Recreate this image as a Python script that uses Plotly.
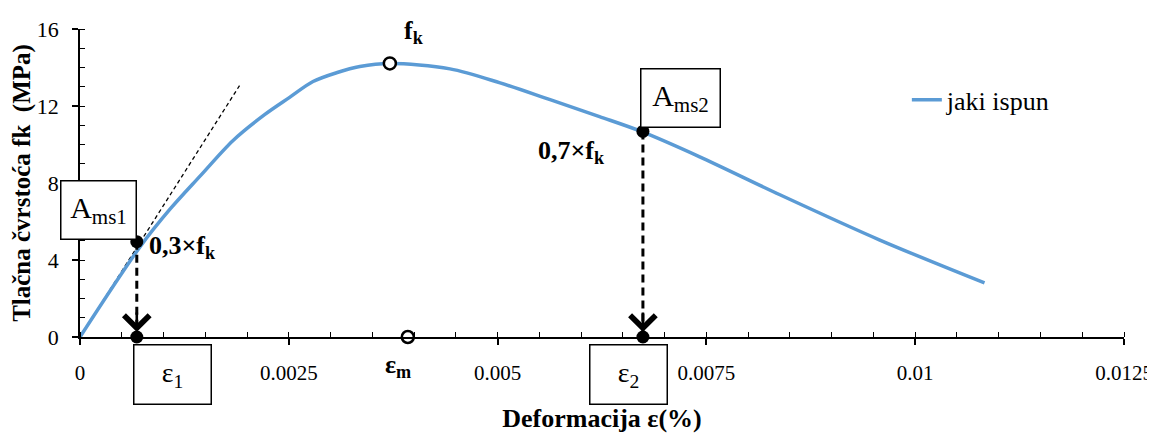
import plotly.graph_objects as go

# ---- data ----
strain = [0, 0.00072, 0.00108, 0.00144, 0.00183, 0.00221, 0.00251, 0.00279,
          0.00308, 0.00335, 0.00371, 0.00443, 0.00503, 0.00562, 0.00622,
          0.00672, 0.00742, 0.00838, 0.00957, 0.01083]
stress = [0, 4.69, 6.65, 8.37, 10.20, 11.55, 12.45, 13.27,
          13.74, 14.05, 14.21, 13.93, 13.20, 12.34, 11.45,
          10.68, 9.36, 7.39, 5.05, 2.81]
series_name = "jaki ispun"

tangent_x = [0, 0.00191]
tangent_y = [0, 13.06]

peak_x, peak_y = 0.00371, 14.21      # f_k
eps_m = 0.003925                     # strain at peak (marked on axis)
eps1, ams1_y = 0.00068, 4.95         # 0,3 x f_k point
eps2, ams2_y = 0.00674, 10.68        # 0,7 x f_k point

x_tickvals = [0, 0.0025, 0.005, 0.0075, 0.01, 0.0125]
x_ticktext = ["0", "0.0025", "0.005", "0.0075", "0.01", "0.0125"]
y_tickvals = [0, 4, 8, 12, 16]
y_ticktext = ["0", "4", "8", "12", "16"]

FONT = "Liberation Serif"
BLUE = "#5B9BD5"

fig = go.Figure()

# tangent (dashed thin)
fig.add_trace(go.Scatter(x=tangent_x, y=tangent_y, mode="lines",
                         line=dict(color="black", width=1.3, dash="4px,3px"),
                         showlegend=False, hoverinfo="skip"))

# main curve
fig.add_trace(go.Scatter(x=strain, y=stress, mode="lines", name=series_name,
                         line=dict(color=BLUE, width=3.5, shape="spline", smoothing=0.9)))

# vertical dashed drop lines
for ex, ey in [(eps1, ams1_y), (eps2, ams2_y)]:
    fig.add_trace(go.Scatter(x=[ex, ex], y=[ey, 0], mode="lines",
                             line=dict(color="black", width=3, dash="8px,5px"),
                             showlegend=False, hoverinfo="skip"))

# filled dots
fig.add_trace(go.Scatter(x=[eps1, eps1, eps2, eps2], y=[ams1_y, 0, ams2_y, 0],
                         mode="markers", cliponaxis=False,
                         marker=dict(color="black", size=13),
                         showlegend=False, hoverinfo="skip"))
# open circles
fig.add_trace(go.Scatter(x=[peak_x, eps_m], y=[peak_y, 0], mode="markers",
                         cliponaxis=False,
                         marker=dict(color="white", size=12,
                                     line=dict(color="black", width=2.5)),
                         showlegend=False, hoverinfo="skip"))

ann = []
# arrowheads
for ex in [eps1, eps2]:
    ann.append(dict(x=ex, y=0, xref="x", yref="y", text="", showarrow=True,
                    ax=0, ay=-26, arrowhead=4, arrowsize=1.9, arrowwidth=2.6,
                    arrowcolor="black", standoff=5))
# boxes
box = dict(showarrow=False, bordercolor="black", borderwidth=1.5, borderpad=0,
           bgcolor="white", font=dict(family=FONT, size=30, color="black"))
ann.append(dict(box, x=eps1, y=ams1_y, xref="x", yref="y", xanchor="right",
                yanchor="bottom", yshift=2, width=74, height=57,
                text="A<sub>ms1</sub>"))
ann.append(dict(box, x=eps2, y=ams2_y, xref="x", yref="y", xanchor="left",
                yanchor="bottom", xshift=-3, yshift=3, width=78, height=57,
                text="A<sub>ms2</sub>"))
ann.append(dict(box, x=eps1, y=0, xref="x", yref="y", xanchor="left",
                yanchor="top", xshift=-4, yshift=-7, width=76, height=58,
                text="ε<sub>1</sub>", font=dict(family=FONT, size=28, color="black")))
ann.append(dict(box, x=eps2, y=0, xref="x", yref="y", xanchor="right",
                yanchor="top", xshift=25, yshift=-7, width=76, height=58,
                text="ε<sub>2</sub>", font=dict(family=FONT, size=28, color="black")))
# bold labels
lab = dict(showarrow=False, xref="x", yref="y",
           font=dict(family=FONT, size=26, color="black"))
ann.append(dict(lab, x=peak_x, y=peak_y, text="<b>f<sub>k</sub></b>",
                xshift=24, yshift=31))
ann.append(dict(lab, x=eps1, y=ams1_y, text="<b>0,3×f<sub>k</sub></b>",
                xanchor="left", xshift=10, yshift=-5))
ann.append(dict(lab, x=eps2, y=ams2_y, text="<b>0,7×f<sub>k</sub></b>",
                xanchor="right", xshift=-36, yshift=-21))
ann.append(dict(lab, x=eps_m, y=0, text="<b>ε<sub>m</sub></b>",
                xshift=-10, yshift=-29))

# the page body adds an 8px offset, so the figure is sized/margined to compensate
fig.update_layout(
    width=1147, height=427,
    margin=dict(l=72, r=31, t=21, b=98),
    paper_bgcolor="white", plot_bgcolor="white",
    font=dict(family=FONT, color="black"),
    annotations=ann,
    showlegend=True,
    legend=dict(x=0.792, y=0.77, xanchor="left", yanchor="middle",
                bgcolor="rgba(0,0,0,0)", font=dict(family=FONT, size=26)),
    xaxis=dict(range=[0, 0.0125], tickvals=x_tickvals, ticktext=x_ticktext,
               automargin=False, ticklabeloverflow="allow",
               showline=True, linecolor="black", linewidth=1.5,
               ticks="outside", ticklen=6, tickwidth=1.5, tickcolor="black",
               minor=dict(dtick=0.0005, ticks="inside", ticklen=5,
                          tickwidth=1.2, tickcolor="black"),
               showgrid=False, zeroline=False, ticklabelstandoff=10,
               tickfont=dict(family=FONT, size=21),
               title=dict(text="<b>Deformacija ε(%)</b>", standoff=25,
                          font=dict(family=FONT, size=26))),
    yaxis=dict(range=[0, 16], tickvals=y_tickvals, ticktext=y_ticktext,
               automargin=False,
               showline=True, linecolor="black", linewidth=1.5,
               ticks="outside", ticklen=6, tickwidth=1.5, tickcolor="black",
               minor=dict(dtick=1, ticks="inside", ticklen=5,
                          tickwidth=1.2, tickcolor="black"),
               showgrid=False, zeroline=False, ticklabelstandoff=9,
               tickfont=dict(family=FONT, size=22),
               title=dict(text="<b>Tlačna čvrstoća fk  (MPa)</b>", standoff=4,
                          font=dict(family=FONT, size=25))),
)

fig.write_html("out.html")
